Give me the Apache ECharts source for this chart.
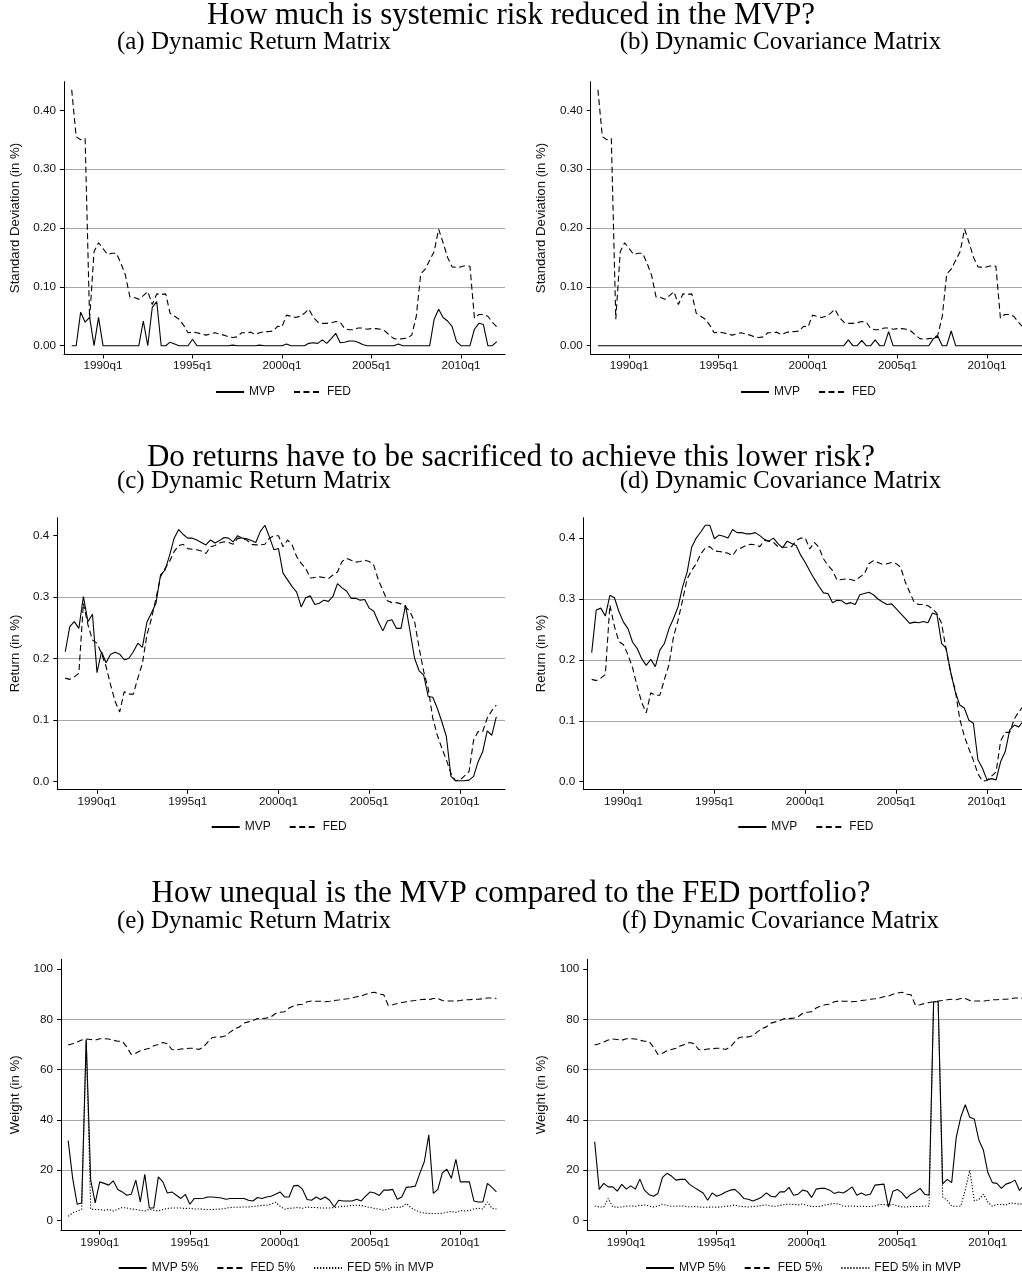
<!DOCTYPE html>
<html><head><meta charset="utf-8">
<script src="https://cdn.jsdelivr.net/npm/echarts@6/dist/echarts.min.js"></script>
<style>html,body{margin:0;padding:0;background:#fff}#c{width:1022px;height:1278px}</style>
</head><body><div id="c"></div>
<script>
// ---- DATA ----
// Quarterly observations 1988q2 .. 2012q1 (Stata %tq: 1960q1 = 0)
const firstQuarter = '1988q2';
const nQuarters = 96;
const xTickLabels = ['1990q1', '1995q1', '2000q1', '2005q1', '2010q1'];
const sdTicks = [0, 0.1, 0.2, 0.3, 0.4];
const retTicks = [0, 0.1, 0.2, 0.3, 0.4];
const weightTicks = [0, 20, 40, 60, 80, 100];

const sectionTitles = [
  'How much is systemic risk reduced in the MVP?',
  'Do returns have to be sacrificed to achieve this lower risk?',
  'How unequal is the MVP compared to the FED portfolio?'
];
const panelTitles = [
  '(a) Dynamic Return Matrix', '(b) Dynamic Covariance Matrix',
  '(c) Dynamic Return Matrix', '(d) Dynamic Covariance Matrix',
  '(e) Dynamic Return Matrix', '(f) Dynamic Covariance Matrix'
];
const yNames = ['Standard Deviation (in %)', 'Return (in %)', 'Weight (in %)'];

// Standard deviation (in %)
const sdFED = [0.435,0.355,0.350,0.352,0.045,0.160,0.175,0.165,0.155,0.157,0.157,0.140,0.120,0.083,0.082,0.079,0.085,0.092,0.070,0.088,
  0.087,0.088,0.055,0.050,0.045,0.035,0.022,0.023,0.022,0.020,0.018,0.020,0.022,0.020,0.018,0.015,0.014,0.015,0.022,0.022,
  0.023,0.019,0.022,0.024,0.024,0.025,0.033,0.032,0.052,0.050,0.048,0.050,0.055,0.062,0.048,0.040,0.038,0.038,0.039,0.041,
  0.040,0.029,0.027,0.027,0.030,0.030,0.028,0.029,0.029,0.028,0.025,0.018,0.012,0.011,0.012,0.013,0.018,0.050,0.122,0.130,
  0.145,0.160,0.198,0.175,0.150,0.134,0.133,0.134,0.136,0.135,0.047,0.053,0.053,0.050,0.040,0.032];
const sdMVP_ret = [0,0,0.057,0.040,0.048,0,0.048,0,0,0,0,0,0,0,0,0,0.042,0,0.065,0.075,
  0,0,0.006,0.003,0,0,0,0.011,0,0,0,0,0,0,0,0,0.001,0,0,0,
  0,0,0.001,0,0,0,0,0,0.003,0,0,0,0,0.004,0.005,0.004,0.010,0.004,0.012,0.021,
  0.005,0.006,0.008,0.008,0.006,0.002,0,0,0,0,0,0,0,0.003,0,0,0,0,0,0,
  0,0.045,0.062,0.048,0.042,0.033,0.007,0,0,0,0.028,0.038,0.036,0,0,0.007];
const sdMVP_cov = [0,0,0,0,0,0,0,0,0,0,0,0,0,0,0,0,0,0,0,0,
  0,0,0,0,0,0,0,0,0,0,0,0,0,0,0,0,0,0,0,0,
  0,0,0,0,0,0,0,0,0,0,0,0,0,0,0,0,0.010,0,0,0.009,
  0,0,0.010,0,0,0.024,0,0,0,0,0,0,0,0,0,0.012,0.016,0,0,0.025,
  0,0,0,0,0,0,0,0,0,0,0,0,0,0,0,0];

// Return (in %)
const retFED = [0.168,0.166,0.170,0.176,0.290,0.255,0.230,0.225,0.208,0.187,0.157,0.130,0.113,0.146,0.142,0.142,0.168,0.192,0.238,0.265,
  0.298,0.333,0.347,0.358,0.374,0.384,0.386,0.379,0.378,0.377,0.375,0.371,0.382,0.384,0.388,0.390,0.389,0.386,0.396,0.395,
  0.393,0.386,0.385,0.385,0.386,0.396,0.400,0.400,0.382,0.393,0.385,0.366,0.355,0.347,0.331,0.332,0.333,0.332,0.330,0.336,
  0.341,0.358,0.363,0.360,0.357,0.358,0.360,0.358,0.352,0.328,0.311,0.294,0.291,0.291,0.289,0.284,0.276,0.260,0.217,0.179,
  0.151,0.103,0.075,0.054,0.035,0.013,0.001,0.002,0.009,0.016,0.067,0.081,0.081,0.103,0.115,0.124];
const retMVP_ret = [0.211,0.252,0.260,0.249,0.301,0.260,0.272,0.177,0.211,0.193,0.207,0.210,0.207,0.198,0.200,0.211,0.225,0.218,0.259,0.274,
  0.290,0.336,0.344,0.368,0.396,0.410,0.402,0.396,0.396,0.393,0.389,0.385,0.393,0.388,0.392,0.397,0.396,0.390,0.400,0.396,
  0.395,0.392,0.389,0.407,0.417,0.398,0.377,0.379,0.339,0.328,0.317,0.308,0.284,0.299,0.302,0.288,0.290,0.295,0.293,0.301,
  0.322,0.315,0.310,0.298,0.298,0.295,0.296,0.282,0.277,0.260,0.245,0.261,0.263,0.249,0.249,0.287,0.244,0.200,0.180,0.173,
  0.138,0.137,0.119,0.097,0.073,0.008,0.001,0.001,0.001,0.002,0.008,0.032,0.048,0.082,0.075,0.105];
const retMVP_cov = [0.212,0.282,0.285,0.272,0.306,0.302,0.279,0.262,0.251,0.229,0.219,0.202,0.191,0.201,0.189,0.216,0.227,0.251,0.268,0.287,
  0.320,0.344,0.385,0.400,0.410,0.421,0.421,0.399,0.405,0.403,0.400,0.414,0.409,0.409,0.407,0.407,0.409,0.404,0.398,0.395,
  0.400,0.391,0.384,0.395,0.391,0.388,0.372,0.360,0.346,0.333,0.321,0.310,0.309,0.294,0.298,0.297,0.292,0.294,0.291,0.307,
  0.309,0.311,0.307,0.300,0.295,0.291,0.292,0.284,0.276,0.268,0.260,0.262,0.261,0.263,0.261,0.277,0.274,0.227,0.219,0.180,
  0.148,0.126,0.121,0.101,0.096,0.036,0.022,0.003,0.005,0.003,0.033,0.049,0.085,0.093,0.090,0.100];

// Weight (in %)
const wFED5 = [69.8,70.3,71.0,71.8,72.2,72.0,71.7,72.3,72.3,72.2,71.7,71.3,71.3,69.0,66.0,66.5,67.5,68.0,68.5,69.5,
  70.0,70.8,70.3,68.0,67.8,68.2,68.3,68.5,68.5,68.0,69.0,71.0,72.8,73.0,73.0,73.5,75.0,76.3,77.0,78.5,
  79.0,79.5,80.3,80.3,80.5,81.0,82.3,82.8,83.0,84.5,85.3,85.8,86.0,87.0,87.3,87.2,87.2,87.0,87.2,87.5,
  87.7,88.0,88.2,88.5,89.0,89.3,90.0,90.5,90.8,90.0,89.8,85.5,85.8,86.3,86.7,87.0,87.3,87.5,87.8,88.0,
  87.8,88.3,88.3,87.5,87.3,87.3,87.3,87.5,87.8,87.8,88.0,88.0,88.2,88.5,88.5,88.3];
const wMVP5_ret = [31.7,16.7,6.4,6.9,72.0,16.0,6.9,15.3,14.7,14.0,15.7,12.3,11.3,10.0,10.4,16.0,7.3,18.3,4.9,4.9,
  17.3,15.3,10.9,11.3,10.0,8.7,10.3,6.4,8.7,8.7,8.8,9.3,9.3,9.1,8.9,8.4,8.7,8.7,8.7,8.7,
  8.0,7.7,9.1,8.7,9.3,9.6,10.4,11.3,9.3,9.3,13.7,13.9,12.3,8.3,8.0,9.3,8.3,9.3,8.0,5.3,
  8.0,7.7,7.7,7.7,8.4,7.7,9.6,11.3,10.9,9.9,12.0,12.0,12.3,8.4,9.3,13.1,13.3,13.6,18.7,23.3,
  34.0,10.7,12.3,18.9,20.3,16.7,24.3,15.3,15.3,15.3,7.7,7.3,7.3,14.7,13.1,11.3];
const wFEDin_ret = [1.6,2.9,3.7,4.3,71.5,4.4,4.3,4.3,4.0,4.3,3.7,4.4,5.1,4.9,4.5,4.3,4.0,3.7,4.4,4.0,
  3.7,4.3,4.7,4.9,4.9,4.9,4.7,4.8,4.5,4.5,4.4,4.3,4.3,4.4,4.5,4.8,5.1,5.2,5.2,5.3,
  5.3,5.5,5.7,5.9,6.0,6.4,7.2,5.6,4.4,4.8,4.9,5.1,4.8,5.3,5.1,5.1,4.9,4.9,4.9,5.1,
  5.3,5.6,5.7,5.9,6.0,5.9,5.5,5.1,4.7,4.4,4.0,4.5,5.3,5.1,5.3,6.7,5.1,4.0,3.3,2.9,
  2.7,2.7,2.7,2.8,3.2,3.5,3.2,3.9,3.7,3.9,4.5,4.8,4.5,7.3,4.8,4.5];
const wMVP5_cov = [31.3,12.3,14.7,13.3,13.3,11.6,14.3,12.4,13.7,12.4,16.4,12.0,10.3,9.6,10.7,17.1,18.7,17.6,16.0,16.3,
  16.3,14.3,13.1,12.0,10.9,8.0,10.9,9.6,10.3,11.3,12.0,12.3,10.7,8.7,8.4,7.7,8.4,9.3,10.9,9.6,
  9.3,11.3,11.3,13.1,10.0,10.4,12.0,11.6,9.1,12.4,12.7,12.7,12.0,10.7,11.3,10.9,12.0,13.3,10.0,10.9,
  10.0,10.4,14.0,14.2,14.4,5.3,11.6,12.3,10.9,8.7,10.4,11.3,12.7,10.4,10.0,87.0,87.0,14.5,16.3,15.0,
  33.0,41.0,46.0,41.0,40.3,32.0,28.0,19.0,15.0,14.7,12.7,14.4,15.0,16.0,11.9,14.0];
const wFEDin_cov = [5.7,5.3,5.3,8.7,5.3,5.2,5.3,5.6,5.7,5.6,5.9,6.1,5.7,5.3,5.7,6.4,5.9,5.6,5.6,5.7,
  5.6,5.3,5.5,5.3,5.2,5.2,5.3,5.2,5.3,5.6,5.7,6.1,5.6,5.5,5.3,5.5,5.6,5.9,6.1,5.7,
  5.6,5.9,6.3,6.4,6.3,6.1,6.5,5.9,5.5,5.5,5.6,6.1,6.4,6.7,6.5,5.6,5.6,5.7,5.5,5.6,
  5.5,5.5,5.7,6.3,6.3,6.0,6.3,5.7,5.3,5.3,5.5,5.5,5.5,5.7,5.6,87.0,87.0,9.3,8.0,5.6,
  5.6,5.6,12.0,20.0,7.7,8.3,10.4,7.3,5.6,6.3,6.3,6.1,6.9,6.7,6.4,6.7];

// ---- helpers ----
function qNum(label) { const y = +label.slice(0, 4), q = +label.slice(5); return (y - 1960) * 4 + (q - 1); }
function qLabel(v) { v = Math.round(v); return (1960 + Math.floor(v / 4)) + 'q' + (((v % 4) + 4) % 4 + 1); }
const q0 = qNum(firstQuarter);
const quarters = Array.from({ length: nQuarters }, (_, i) => q0 + i);
const xTicks = xTickLabels.map(qNum);
const pairs = arr => arr.map((v, i) => [quarters[i], v]);

const SOLID = 'solid', DASH = [6, 3.5], DOT = [1.2, 1.8];
const panels = [
  { g: [64, 81.7, 441, 272.3], x: [111.28, 209.83], y: [-0.0141, 0.4486], yt: sdTicks, fmt: v => v.toFixed(2), yn: 0, yc: [15, 218],
    lg: [215, 386], series: [['MVP', sdMVP_ret, SOLID], ['FED', sdFED, DASH]] },
  { g: [590.7, 81.7, 441, 272.3], x: [111.39, 210.0], y: [-0.0141, 0.4486], yt: sdTicks, fmt: v => v.toFixed(2), yn: 0, yc: [541.5, 218],
    lg: [740, 386], series: [['MVP', sdMVP_cov, SOLID], ['FED', sdFED, DASH]] },
  { g: [57.3, 517.7, 447.7, 271.6], x: [111.25, 209.92], y: [-0.013, 0.4293], yt: retTicks, fmt: v => v.toFixed(1), yn: 1, yc: [15, 653.5],
    lg: [210.7, 821], series: [['MVP', retMVP_ret, SOLID], ['FED', retFED, DASH]] },
  { g: [583.3, 517.7, 448.7, 271.6], x: [111.15, 209.9], y: [-0.0125, 0.4335], yt: retTicks, fmt: v => v.toFixed(1), yn: 1, yc: [541.5, 653.5],
    lg: [737.3, 821], series: [['MVP', retMVP_cov, SOLID], ['FED', retFED, DASH]] },
  { g: [61, 959.3, 444, 271], x: [111.41, 209.9], y: [-3.98, 103.9], yt: weightTicks, fmt: v => String(v), yn: 2, yc: [15, 1094.8],
    lg: [117.7, 1262], series: [['MVP 5%', wMVP5_ret, SOLID], ['FED 5%', wFED5, DASH], ['FED 5% in MVP', wFEDin_ret, DOT]] },
  { g: [587.3, 959.3, 445.3, 271], x: [111.37, 209.9], y: [-3.98, 103.9], yt: weightTicks, fmt: v => String(v), yn: 2, yc: [541.5, 1094.8],
    lg: [645, 1262], series: [['MVP 5%', wMVP5_cov, SOLID], ['FED 5%', wFED5, DASH], ['FED 5% in MVP', wFEDin_cov, DOT]] }
];

const SANS = 'Liberation Sans, Arial, sans-serif';
const SERIF = 'Liberation Serif, Times New Roman, serif';
const grid = [], xAxis = [], yAxis = [], series = [], legend = [], graphic = [];

panels.forEach((p, k) => {
  grid.push({ left: p.g[0], top: p.g[1], width: p.g[2], height: p.g[3], containLabel: false, outerBoundsMode: 'none' });
  xAxis.push({
    type: 'value', gridIndex: k, min: p.x[0], max: p.x[1],
    axisLine: { show: true, onZero: false, lineStyle: { color: '#000', width: 1 } },
    axisTick: { show: true, customValues: xTicks, length: 4.5, lineStyle: { color: '#000', width: 1 } },
    axisLabel: { customValues: xTicks, formatter: qLabel, color: '#111', fontSize: 11.7, fontFamily: SANS, margin: 6 },
    splitLine: { show: false }
  });
  yAxis.push({
    type: 'value', gridIndex: k, min: p.y[0], max: p.y[1],
    axisLine: { show: true, onZero: false, lineStyle: { color: '#000', width: 1 } },
    axisTick: { show: true, customValues: p.yt, length: 4, lineStyle: { color: '#000', width: 1 } },
    axisLabel: { customValues: p.yt, formatter: p.fmt, color: '#111', fontSize: 11.7, fontFamily: SANS, margin: 8 },
    splitLine: { show: true, showMinLine: false, showMaxLine: false, lineStyle: { color: '#a8a8a8', width: 1.1 } }
  });
  p.series.forEach(([name, arr, type]) => {
    series.push({
      type: 'line', name, xAxisIndex: k, yAxisIndex: k, data: pairs(arr),
      symbol: 'none', showSymbol: false, silent: true, animation: false,
      lineStyle: { color: '#000', width: 1.1, type },
      itemStyle: { color: '#000' }, z: 3
    });
  });
  legend.push({
    left: p.lg[0], top: p.lg[1], orient: 'horizontal', padding: 0,
    itemWidth: 28, itemHeight: 14, itemGap: 18, selectedMode: false,
    data: p.series.map(s => s[0]),
    itemStyle: { color: 'rgba(0,0,0,0)', borderColor: 'rgba(0,0,0,0)', borderWidth: 0, opacity: 0 },
    textStyle: { color: '#111', fontSize: 12, fontFamily: SANS }
  });
  graphic.push({
    type: 'text', x: p.yc[0], y: p.yc[1], rotation: Math.PI / 2, silent: true,
    style: { text: yNames[p.yn], fill: '#111', fontSize: 13.2, fontFamily: SANS, textAlign: 'center', textVerticalAlign: 'middle' }
  });
});

const titleY = [16, 457.5, 894];
const subY = [42.8, 481.5, 921];
sectionTitles.forEach((t, s) => {
  graphic.push({ type: 'text', x: 511, y: titleY[s], silent: true,
    style: { text: t, fill: '#000', fontSize: 31, fontFamily: SERIF, textAlign: 'center', textVerticalAlign: 'middle' } });
  graphic.push({ type: 'text', x: 254, y: subY[s], silent: true,
    style: { text: panelTitles[s * 2], fill: '#000', fontSize: 25, fontFamily: SERIF, textAlign: 'center', textVerticalAlign: 'middle' } });
  graphic.push({ type: 'text', x: 780.5, y: subY[s], silent: true,
    style: { text: panelTitles[s * 2 + 1], fill: '#000', fontSize: 25, fontFamily: SERIF, textAlign: 'center', textVerticalAlign: 'middle' } });
});

const chart = echarts.init(document.getElementById('c'), null, { renderer: 'canvas' });
chart.setOption({
  backgroundColor: '#fff', animation: false,
  grid, xAxis, yAxis, series, legend, graphic
});
</script></body></html>
